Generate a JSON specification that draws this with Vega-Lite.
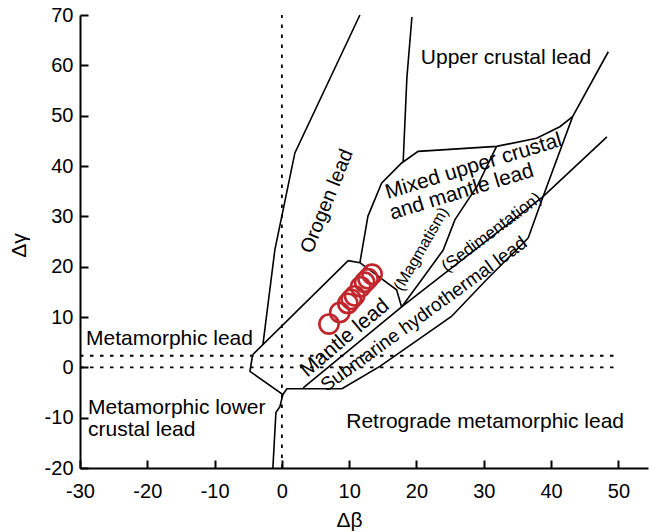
{
  "$schema": "https://vega.github.io/schema/vega-lite/v6.json",
  "width": 568,
  "height": 453,
  "autosize": {"type": "none"},
  "padding": {"left": 80, "top": 15, "right": 1, "bottom": 64},
  "background": "white",
  "config": {
    "view": {"stroke": null},
    "font": "Liberation Sans",
    "text": {"font": "Liberation Sans", "color": "black"}
  },
  "datasets": {
    "boundaries": [
      {"seg": "orogen", "ord": 1, "x": 11.59, "y": 70.0},
      {"seg": "orogen", "ord": 2, "x": 1.93, "y": 42.6},
      {"seg": "orogen", "ord": 3, "x": -1.04, "y": 23.4},
      {"seg": "orogen", "ord": 4, "x": -2.82, "y": 4.5},
      {"seg": "mantle", "ord": 1, "x": -4.35, "y": 2.5},
      {"seg": "mantle", "ord": 2, "x": 9.85, "y": 21.2},
      {"seg": "mantle", "ord": 3, "x": 11.59, "y": 20.8},
      {"seg": "mantle", "ord": 4, "x": 17.04, "y": 15.4},
      {"seg": "mantle", "ord": 5, "x": 17.79, "y": 12.0},
      {"seg": "meta", "ord": 1, "x": -4.35, "y": 2.5},
      {"seg": "meta", "ord": 2, "x": -4.75, "y": -0.8},
      {"seg": "meta", "ord": 3, "x": 0.15, "y": -5.4},
      {"seg": "meta", "ord": 4, "x": -0.3, "y": -7.8},
      {"seg": "meta", "ord": 5, "x": -0.89, "y": -9.0},
      {"seg": "meta", "ord": 6, "x": -1.34, "y": -20.0},
      {"seg": "base", "ord": 1, "x": 0.15, "y": -5.4},
      {"seg": "base", "ord": 2, "x": 0.74, "y": -4.25},
      {"seg": "base", "ord": 3, "x": 8.92, "y": -4.25},
      {"seg": "hydroTop", "ord": 1, "x": 3.16, "y": -4.1},
      {"seg": "hydroTop", "ord": 2, "x": 17.79, "y": 12.0},
      {"seg": "hydroTop", "ord": 3, "x": 38.8, "y": 33.9},
      {"seg": "hydroTop", "ord": 4, "x": 48.3, "y": 45.8},
      {"seg": "hydroBottom", "ord": 1, "x": 8.92, "y": -4.25},
      {"seg": "hydroBottom", "ord": 2, "x": 14.56, "y": 0.2},
      {"seg": "hydroBottom", "ord": 3, "x": 25.2, "y": 10.1},
      {"seg": "hydroBottom", "ord": 4, "x": 30.4, "y": 17.4},
      {"seg": "hydroBottom", "ord": 5, "x": 36.6, "y": 25.7},
      {"seg": "right", "ord": 1, "x": 36.6, "y": 25.7},
      {"seg": "right", "ord": 2, "x": 38.8, "y": 33.9},
      {"seg": "right", "ord": 3, "x": 43.2, "y": 49.8},
      {"seg": "right", "ord": 4, "x": 48.5, "y": 62.7},
      {"seg": "mixed", "ord": 1, "x": 11.59, "y": 20.8},
      {"seg": "mixed", "ord": 2, "x": 12.78, "y": 30.0},
      {"seg": "mixed", "ord": 3, "x": 14.81, "y": 36.6},
      {"seg": "mixed", "ord": 4, "x": 17.79, "y": 40.6},
      {"seg": "mixed", "ord": 5, "x": 20.25, "y": 42.9},
      {"seg": "mixed", "ord": 6, "x": 31.9, "y": 43.9},
      {"seg": "mixed", "ord": 7, "x": 37.85, "y": 45.5},
      {"seg": "mixed", "ord": 8, "x": 41.3, "y": 47.8},
      {"seg": "mixed", "ord": 9, "x": 43.2, "y": 49.8},
      {"seg": "upper", "ord": 1, "x": 19.32, "y": 69.6},
      {"seg": "upper", "ord": 2, "x": 18.57, "y": 57.5},
      {"seg": "upper", "ord": 3, "x": 18.02, "y": 40.8},
      {"seg": "magma", "ord": 1, "x": 17.79, "y": 12.0},
      {"seg": "magma", "ord": 2, "x": 20.76, "y": 17.4},
      {"seg": "magma", "ord": 3, "x": 23.97, "y": 23.3},
      {"seg": "magma", "ord": 4, "x": 25.7, "y": 29.3},
      {"seg": "magma", "ord": 5, "x": 29.1, "y": 36.2},
      {"seg": "magma", "ord": 6, "x": 31.9, "y": 43.9}
    ],
    "guides": [
      {"seg": "h0", "ord": 1, "x": -30, "y": 0},
      {"seg": "h0", "ord": 2, "x": 50, "y": 0},
      {"seg": "h2", "ord": 1, "x": -30, "y": 2.3},
      {"seg": "h2", "ord": 2, "x": 50, "y": 2.3},
      {"seg": "v0", "ord": 1, "x": 0, "y": -20},
      {"seg": "v0", "ord": 2, "x": 0, "y": 70}
    ],
    "samples": [
      {"x": 7.0, "y": 8.6},
      {"x": 8.6, "y": 10.9},
      {"x": 9.8, "y": 12.7},
      {"x": 10.3, "y": 13.5},
      {"x": 10.8, "y": 14.2},
      {"x": 11.7, "y": 16.0},
      {"x": 12.3, "y": 16.9},
      {"x": 12.8, "y": 17.6},
      {"x": 13.4, "y": 18.5}
    ]
  },
  "encoding": {
    "x": {
      "field": "x",
      "type": "quantitative",
      "scale": {"domain": [-30, 54.4], "nice": false, "zero": false},
      "axis": {
        "title": "Δβ",
        "values": [-30, -20, -10, 0, 10, 20, 30, 40, 50],
        "labelExpr": "'' + datum.value",
        "grid": false,
        "tickSize": -8,
        "tickWidth": 2,
        "tickColor": "black",
        "domainColor": "black",
        "domainWidth": 2,
        "labelFont": "Liberation Sans",
        "labelFontSize": 20,
        "labelColor": "black",
        "labelPadding": 21,
        "labelFlush": false,
        "labelOverlap": false,
        "titleFont": "Liberation Sans",
        "titleFontSize": 21,
        "titleFontWeight": "normal",
        "titleColor": "black",
        "titleX": 269,
        "titleY": 58,
        "titleAlign": "center",
        "titleBaseline": "alphabetic"
      }
    },
    "y": {
      "field": "y",
      "type": "quantitative",
      "scale": {"domain": [-20, 70], "nice": false, "zero": false},
      "axis": {
        "title": "Δγ",
        "values": [-20, -10, 0, 10, 20, 30, 40, 50, 60, 70],
        "labelExpr": "'' + datum.value",
        "grid": false,
        "tickSize": -8,
        "tickWidth": 2,
        "tickColor": "black",
        "domainColor": "black",
        "domainWidth": 2,
        "labelFont": "Liberation Sans",
        "labelFontSize": 20,
        "labelColor": "black",
        "labelPadding": 15,
        "labelFlush": false,
        "labelOverlap": false,
        "titleFont": "Liberation Sans",
        "titleFontSize": 21,
        "titleFontWeight": "normal",
        "titleColor": "black",
        "titleAngle": -90,
        "titleX": -61,
        "titleY": 230,
        "titleAlign": "center",
        "titleBaseline": "middle"
      }
    }
  },
  "layer": [
    {
      "data": {"name": "guides"},
      "mark": {"type": "line", "color": "black", "strokeWidth": 1.8, "strokeDash": [3.5, 6.5]},
      "encoding": {"detail": {"field": "seg"}, "order": {"field": "ord", "type": "quantitative"}}
    },
    {
      "data": {"name": "boundaries"},
      "mark": {"type": "line", "color": "black", "strokeWidth": 1.6},
      "encoding": {"detail": {"field": "seg"}, "order": {"field": "ord", "type": "quantitative"}}
    },
    {
      "data": {"name": "samples"},
      "mark": {"type": "point", "shape": "circle", "filled": false, "color": "#c1272d", "strokeWidth": 2.6, "size": 370, "opacity": 1}
    },
    {
      "data": {"values": [
        {"label": "Upper crustal lead", "x": 33.3, "y": 61.5},
        {"label": "Retrograde metamorphic lead", "x": 30.2, "y": -10.8}
      ]},
      "mark": {"type": "text", "fontSize": 21, "align": "center", "baseline": "middle"},
      "encoding": {"text": {"field": "label"}}
    },
    {
      "data": {"values": [
        {"label": "Metamorphic lead", "x": -29.1, "y": 5.7},
        {"label": "Metamorphic lower", "x": -28.8, "y": -8.1},
        {"label": "crustal lead", "x": -28.8, "y": -12.4}
      ]},
      "mark": {"type": "text", "fontSize": 21, "align": "left", "baseline": "middle"},
      "encoding": {"text": {"field": "label"}}
    },
    {
      "data": {"values": [{"label": "Orogen lead", "x": 6.7, "y": 33.0}]},
      "mark": {"type": "text", "fontSize": 20, "angle": -68, "align": "center", "baseline": "middle"},
      "encoding": {"text": {"field": "label"}}
    },
    {
      "data": {"values": [
        {"label": "Mixed upper crustal", "x": 28.5, "y": 39.9},
        {"label": "and mantle lead", "x": 26.7, "y": 34.8}
      ]},
      "mark": {"type": "text", "fontSize": 21, "angle": -17, "align": "center", "baseline": "middle"},
      "encoding": {"text": {"field": "label"}}
    },
    {
      "data": {"values": [{"label": "(Magmatism)", "x": 20.7, "y": 23.5}]},
      "mark": {"type": "text", "fontSize": 16, "angle": -60, "align": "center", "baseline": "middle"},
      "encoding": {"text": {"field": "label"}}
    },
    {
      "data": {"values": [{"label": "(Sedimentation)", "x": 31.16, "y": 26.8}]},
      "mark": {"type": "text", "fontSize": 17, "angle": -37, "align": "center", "baseline": "middle"},
      "encoding": {"text": {"field": "label"}}
    },
    {
      "data": {"values": [{"label": "Submarine hydrothermal lead", "x": 21.1, "y": 10.6}]},
      "mark": {"type": "text", "fontSize": 19, "angle": -36, "align": "center", "baseline": "middle"},
      "encoding": {"text": {"field": "label"}}
    },
    {
      "data": {"values": [{"label": "Mantle lead", "x": 9.36, "y": 5.8}]},
      "mark": {"type": "text", "fontSize": 21, "angle": -40, "align": "center", "baseline": "middle"},
      "encoding": {"text": {"field": "label"}}
    }
  ]
}
